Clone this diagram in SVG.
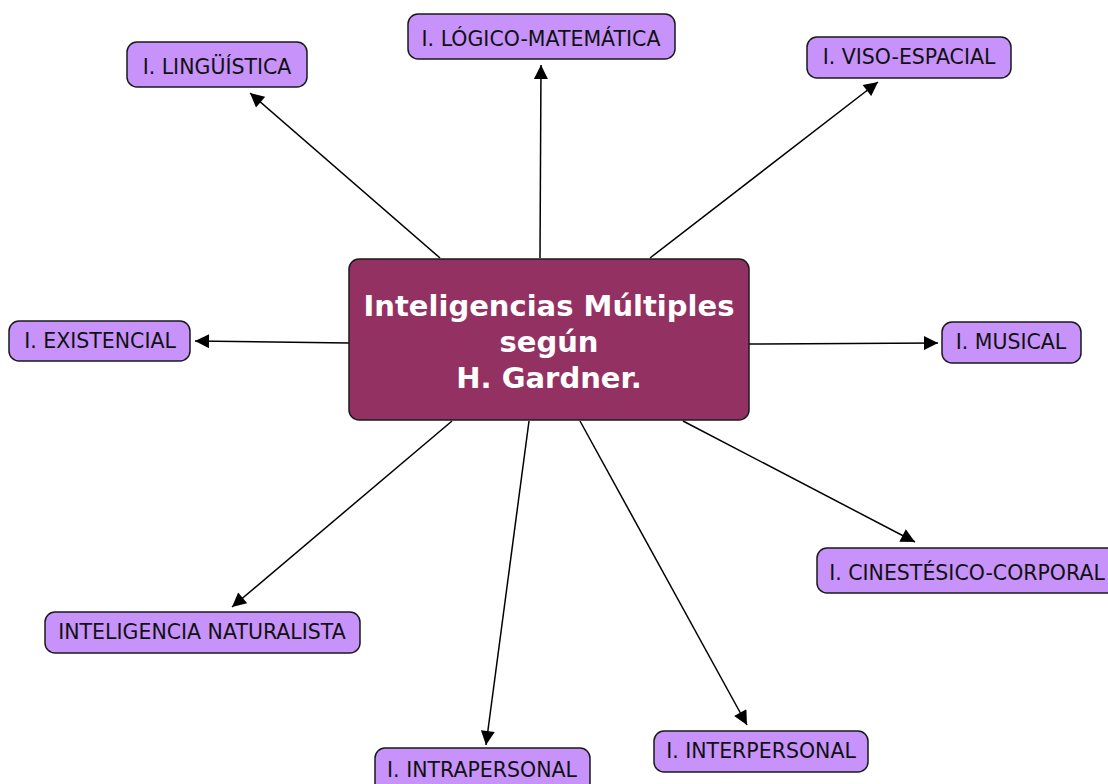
<svg xmlns="http://www.w3.org/2000/svg" width="1108" height="784" viewBox="0 0 1108 784">
<style>
.n rect{fill:#c793fb;stroke:#1a1a1a;stroke-width:1.5}
.n text{font-family:"DejaVu Sans",Verdana,sans-serif;font-size:20.5px;fill:#111;text-anchor:middle}
.c rect{fill:#943163;stroke:#1a1a1a;stroke-width:1.5}
.c text{font-family:"DejaVu Sans",Verdana,sans-serif;font-size:29px;font-weight:bold;fill:#fff;text-anchor:middle}
.e line{stroke:#000;stroke-width:1.5;marker-end:url(#a)}
</style>
<defs>
<marker id="a" viewBox="0 0 10 10" refX="10" refY="5" markerWidth="15" markerHeight="14" markerUnits="userSpaceOnUse" orient="auto"><path d="M0,0L10,5L0,10z" fill="#000"/></marker>
</defs>
<rect width="1108" height="784" fill="#fff"/>
<g id="connectors" class="e">
<line x1="440" y1="258" x2="250" y2="93"/>
<line x1="540" y1="258" x2="541" y2="65"/>
<line x1="650" y1="258" x2="878" y2="82"/>
<line x1="349" y1="343" x2="195" y2="341"/>
<line x1="749" y1="344" x2="938" y2="343"/>
<line x1="683" y1="421" x2="915" y2="542"/>
<line x1="452" y1="421" x2="232" y2="607"/>
<line x1="529" y1="421" x2="486" y2="745"/>
<line x1="580" y1="421" x2="747" y2="725"/>
</g>
<g id="center" class="c">
<rect x="349" y="259" width="400" height="161" rx="10"/>
<text x="549" y="316">Inteligencias Múltiples</text>
<text x="549" y="352">según</text>
<text x="549" y="388">H. Gardner.</text>
</g>
<g id="linguistica" class="n"><rect x="127" y="42" width="180" height="45" rx="10"/><text x="217" y="74">I. LINGÜÍSTICA</text></g>
<g id="logico" class="n"><rect x="408" y="14" width="267" height="45" rx="10"/><text x="541" y="46">I. LÓGICO-MATEMÁTICA</text></g>
<g id="viso" class="n"><rect x="807" y="37" width="204" height="41" rx="10"/><text x="909" y="64">I. VISO-ESPACIAL</text></g>
<g id="existencial" class="n"><rect x="9" y="321" width="181" height="40" rx="10"/><text x="100" y="348">I. EXISTENCIAL</text></g>
<g id="musical" class="n"><rect x="942" y="322" width="139" height="41" rx="10"/><text x="1011" y="349">I. MUSICAL</text></g>
<g id="cinestesico" class="n"><rect x="817" y="548" width="300" height="45" rx="10"/><text x="967" y="580">I. CINESTÉSICO-CORPORAL</text></g>
<g id="naturalista" class="n"><rect x="45" y="612" width="315" height="41" rx="10"/><text x="202" y="639">INTELIGENCIA NATURALISTA</text></g>
<g id="intrapersonal" class="n"><rect x="375" y="748" width="215" height="45" rx="10"/><text x="482" y="777">I. INTRAPERSONAL</text></g>
<g id="interpersonal" class="n"><rect x="654" y="731" width="214" height="41" rx="10"/><text x="761" y="758">I. INTERPERSONAL</text></g>
</svg>
